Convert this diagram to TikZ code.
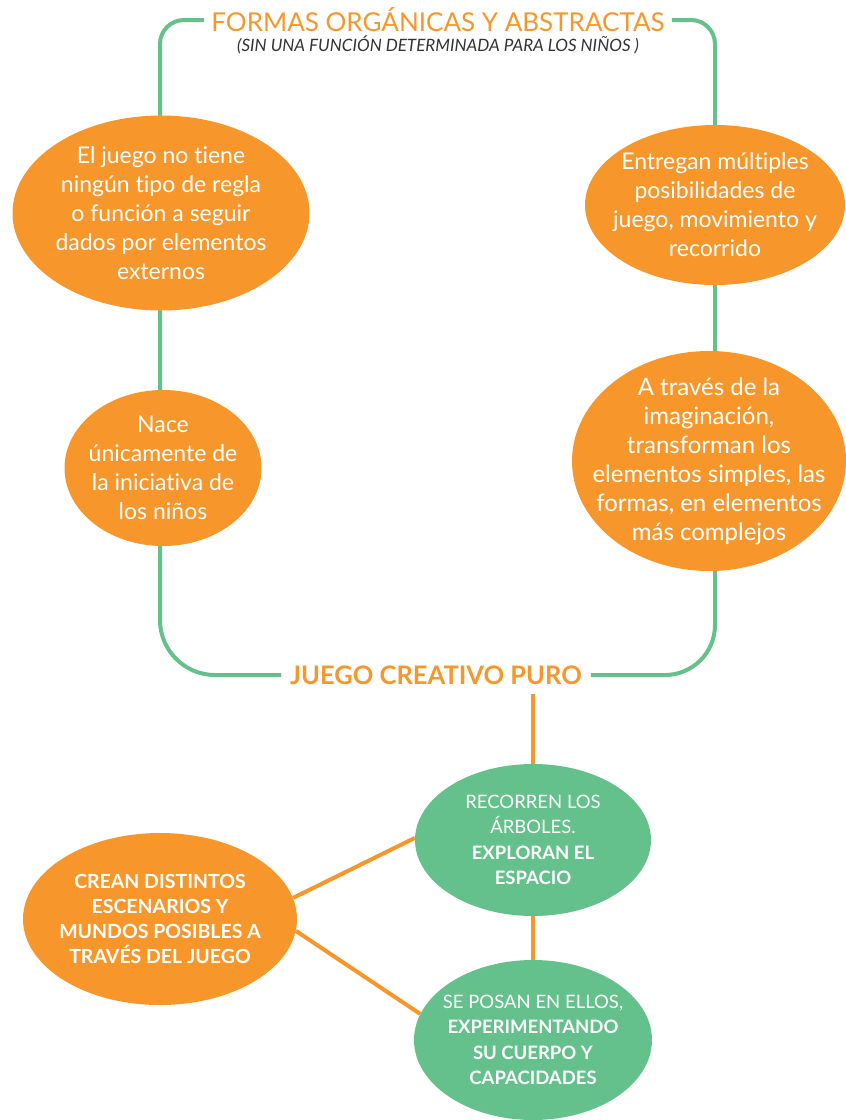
\documentclass[tikz,border=0pt]{standalone}
\usepackage{fontspec}
\setmainfont{Lato}[RawFeature={-liga}]
\usetikzlibrary{shapes.geometric,backgrounds}
\definecolor{org}{HTML}{F7962B}
\definecolor{grn}{HTML}{65C18C}
\definecolor{subgray}{HTML}{333333}
\tikzset{
  oval/.style={ellipse, inner sep=-60pt, text=white, align=center},
  orgoval/.style={oval, fill=org},
  grnoval/.style={oval, fill=grn},
  bigtxt/.style={font=\fontsize{23}{29}\selectfont},
  capstxt/.style={font=\fontsize{18.5}{25.5}\selectfont},
  gline/.style={draw=grn, line width=4pt},
  oline/.style={draw=org, line width=4pt},
}
\begin{document}
\begin{tikzpicture}[x=1pt,y=-1pt]
\useasboundingbox (0,0) rectangle (846,1120);
% title
\node[text=org, font=\fontsize{26}{30}\selectfont, inner sep=7pt] (title) at (438,20) {FORMAS ORGÁNICAS Y ABSTRACTAS};
\node[text=subgray, font=\itshape\fontsize{17}{18}\selectfont, inner sep=0pt] (sub) at (438,45) {(SIN UNA FUNCIÓN DETERMINADA PARA LOS NIÑOS )};
% top ellipses
\node[orgoval, bigtxt, minimum width=297pt, minimum height=195pt] (e1) at (161,213)
  {El juego no tiene\\ningún tipo de regla\\o función a seguir\\dados por elementos\\externos};
\node[orgoval, bigtxt, minimum width=260pt, minimum height=160pt] (e2) at (715,205)
  {Entregan múltiples\\posibilidades de\\juego, movimiento y\\recorrido};
\node[orgoval, bigtxt, minimum width=197pt, minimum height=156pt] (e3) at (163,468)
  {Nace\\únicamente de\\la iniciativa de\\los niños};
\node[orgoval, font=\fontsize{24}{29}\selectfont, minimum width=274pt, minimum height=220pt] (e4) at (709,461)
  {A través de la\\imaginación,\\transforman los\\elementos simples, las\\formas, en elementos\\más complejos};
% centre title
\node[text=org, font=\bfseries\fontsize{25.5}{28}\selectfont, inner sep=9pt] (jcp) at (436,675) {JUEGO CREATIVO PURO};
% bottom ellipses
\node[grnoval, capstxt, minimum width=236pt, minimum height=152pt] (e5) at (533,840)
  {RECORREN LOS\\ÁRBOLES.\\\textbf{EXPLORAN EL}\\\textbf{ESPACIO}};
\node[grnoval, capstxt, minimum width=238pt, minimum height=160pt] (e6) at (533,1040)
  {SE POSAN EN ELLOS,\\\textbf{EXPERIMENTANDO}\\\textbf{SU CUERPO Y}\\\textbf{CAPACIDADES}};
\node[orgoval, font=\bfseries\fontsize{19.5}{25}\selectfont, minimum width=274pt, minimum height=172pt] (e7) at (160,919)
  {CREAN DISTINTOS\\ESCENARIOS Y\\MUNDOS POSIBLES A\\TRAVÉS DEL JUEGO};
% connectors
\begin{scope}[on background layer]
\coordinate (lx) at (160,0);
\coordinate (rx) at (715,0);
\draw[gline, rounded corners=24pt] (title.west) -| (lx |- e1.center);
\draw[gline, rounded corners=24pt] (title.east) -| (rx |- e2.center);
\draw[gline, rounded corners=55pt] (lx |- e1.center) -- (lx |- e3.center) |- (jcp.west);
\draw[gline, rounded corners=50pt] (rx |- e2.center) -- (rx |- e4.center) |- (jcp.east);
\coordinate (jcpb) at (jcp.south -| e5.center);
\draw[oline] (jcpb) -- (e6.center);
\draw[oline] (e7.9) -- (e5.179);
\draw[oline] (e7.-5) -- (e6.167);
\end{scope}
\end{tikzpicture}
\end{document}
